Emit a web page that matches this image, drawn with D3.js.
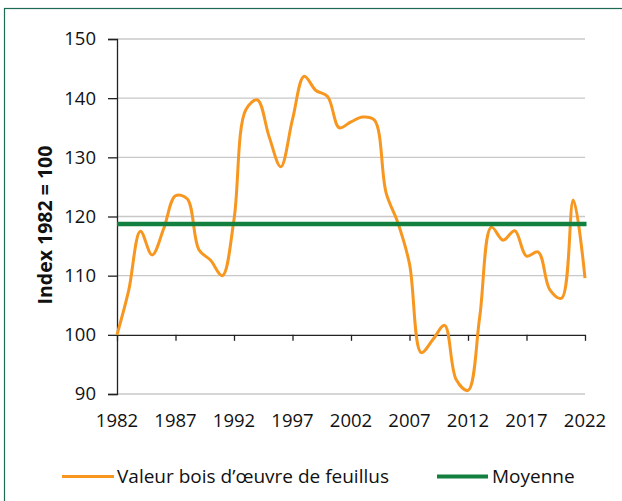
<!DOCTYPE html>
<html>
<head>
<meta charset="utf-8">
<script src="https://cdn.jsdelivr.net/npm/d3@7"></script>
<style>
  body { margin: 0; background: #fff; }
  svg { display: block; font-family: "Open Sans", sans-serif; }
</style>
</head>
<body>
<svg id="chart" width="622" height="501"></svg>
<script>
var years = [1982, 1983, 1984, 1985, 1986, 1987, 1988, 1989, 1990, 1991,
  1992, 1993, 1994, 1995, 1996, 1997, 1998, 1999, 2000, 2001,
  2002, 2003, 2004, 2005, 2006, 2007, 2008, 2009, 2010, 2011,
  2012, 2013, 2014, 2015, 2016, 2017, 2018, 2019, 2020, 2021, 2022];
var values = [100, 107.5, 117.5, 113.5, 118, 123.5, 123, 114.4, 112.6, 110,
  119.5, 138, 139.7, 133.5, 128.4, 136.4, 143.7, 141.3, 140.3, 135,
  136, 136.8, 136.3, 124, 119, 112, 97, 99.2, 101.6, 92.4,
  90.6, 103, 118.2, 116, 117.6, 113.3, 114, 107.6, 106.2, 122.8, 109.6];
var average = 118.75;
var yTicks = [90, 100, 110, 120, 130, 140, 150];
var xTicks = [1982, 1987, 1992, 1997, 2002, 2007, 2012, 2017, 2022];
var seriesName = 'Valeur bois d\u2019\u0153uvre de feuillus';
var avgName = 'Moyenne';
var yTitle = 'Index 1982 = 100';

var orange = '#f7971f';
var green = '#14803f';
var frame = '#1d6b55';

var svg = d3.select('#chart');

// frame round the figure
svg.append('rect')
  .attr('x', 4.5).attr('y', 8.5)
  .attr('width', 640).attr('height', 520)
  .attr('fill', 'none')
  .attr('stroke', frame)
  .attr('stroke-width', 1.2);

var x = d3.scaleLinear().domain([1982, 2022]).range([117, 585]);
var y = d3.scaleLinear().domain([90, 150]).range([394, 39]);

// gridlines
svg.append('g').selectAll('line')
  .data(yTicks.filter(function (d) { return d !== 100; }))
  .enter().append('line')
  .attr('x1', 117).attr('x2', 585)
  .attr('y1', function (d) { return y(d); })
  .attr('y2', function (d) { return y(d); })
  .attr('stroke', '#c8c8c8')
  .attr('stroke-width', 1.3);

// y axis
var yAxis = svg.append('g')
  .attr('transform', 'translate(117,0)')
  .call(d3.axisLeft(y).tickValues(yTicks).tickSize(9).tickPadding(12));
yAxis.select('.domain').attr('stroke', '#222').attr('stroke-width', 1.3);
yAxis.selectAll('.tick line').attr('stroke', '#222').attr('stroke-width', 1.3);
yAxis.selectAll('text')
  .attr('font-size', '18.5px')
  .attr('font-family', '"Open Sans", sans-serif')
  .attr('fill', '#111');

// x axis sits on the 100 line
var xAxis = svg.append('g')
  .attr('transform', 'translate(0,' + y(100) + ')')
  .call(d3.axisBottom(x).tickValues(xTicks).tickFormat(d3.format('d')).tickSize(6).tickSizeOuter(0));
xAxis.select('.domain').attr('stroke', '#222').attr('stroke-width', 1.3);
xAxis.selectAll('.tick line').attr('stroke', '#222').attr('stroke-width', 1.3);
xAxis.selectAll('text').remove();

// x labels under the plot
svg.append('g').selectAll('text')
  .data(xTicks)
  .enter().append('text')
  .attr('x', function (d) { return x(d); })
  .attr('y', 427)
  .attr('text-anchor', 'middle')
  .attr('font-size', '18.5px')
  .attr('fill', '#111')
  .text(function (d) { return d; });

// y axis title
svg.append('text')
  .attr('transform', 'translate(52,225) rotate(-90)')
  .attr('text-anchor', 'middle')
  .attr('font-size', '19.5px')
  .attr('font-weight', 'bold')
  .attr('fill', '#111')
  .text(yTitle);

// series
var line = d3.line()
  .x(function (d, i) { return x(years[i]); })
  .y(function (d) { return y(d); })
  .curve(d3.curveCatmullRom.alpha(0.5));

svg.append('path')
  .datum(values)
  .attr('d', line)
  .attr('fill', 'none')
  .attr('stroke', orange)
  .attr('stroke-width', 3);

// average
svg.append('line')
  .attr('x1', x(1982)).attr('x2', x(2022) + 1.5)
  .attr('y1', y(average)).attr('y2', y(average))
  .attr('stroke', green)
  .attr('stroke-width', 4.5);

// legend
var legend = svg.append('g');
legend.append('line')
  .attr('x1', 62).attr('x2', 114).attr('y1', 476.5).attr('y2', 476.5)
  .attr('stroke', orange).attr('stroke-width', 3);
legend.append('text')
  .attr('x', 117).attr('y', 483)
  .attr('font-size', '19px').attr('fill', '#111')
  .text(seriesName);
legend.append('line')
  .attr('x1', 437).attr('x2', 488).attr('y1', 476.5).attr('y2', 476.5)
  .attr('stroke', green).attr('stroke-width', 4);
legend.append('text')
  .attr('x', 492).attr('y', 483)
  .attr('font-size', '19px').attr('fill', '#111')
  .text(avgName);
</script>
</body>
</html>
